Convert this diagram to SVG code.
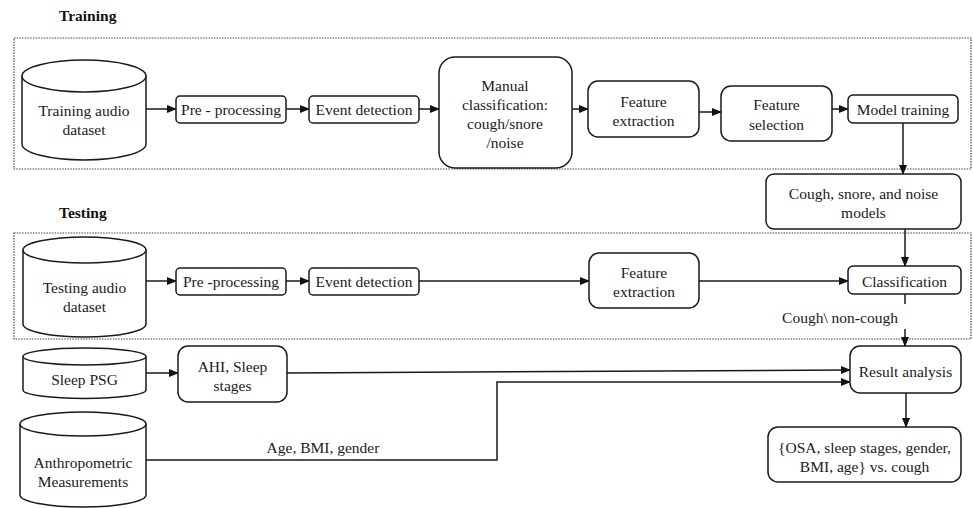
<svg xmlns="http://www.w3.org/2000/svg" width="973" height="508" viewBox="0 0 973 508" font-family="'Liberation Serif', 'Times New Roman', 'DejaVu Serif', serif">
<defs>
<marker id="ah" markerWidth="10" markerHeight="8" refX="9" refY="4" orient="auto" markerUnits="userSpaceOnUse">
<path d="M0,0 L10,4 L0,8 Z" fill="#111"/>
</marker>
<style>
text{font-family:'Liberation Serif','Times New Roman','DejaVu Serif',serif}
.n{fill:#fff;stroke:#1a1a1a;stroke-width:1.5}
.t{font-size:15.5px;fill:#1a1a1a;text-anchor:middle;dominant-baseline:central}
.h{font-size:15.5px;font-weight:bold;fill:#111}
.c{fill:none;stroke:#1a1a1a;stroke-width:1.5}
.a{fill:none;stroke:#1a1a1a;stroke-width:1.5;marker-end:url(#ah)}
.d{fill:none;stroke:#444;stroke-width:1.2;stroke-dasharray:1.5 1.2}
</style>
</defs>
<rect width="973" height="508" fill="#fff"/>

<g id="sections">
<text class="h" x="59" y="21">Training</text>
<rect class="d" x="14" y="38" width="957" height="131"/>
<text class="h" x="59" y="218">Testing</text>
<rect class="d" x="14" y="233" width="957" height="106"/>
</g>

<g id="connectors">
<line class="a" x1="146" y1="109" x2="176" y2="109"/>
<line class="a" x1="286" y1="109" x2="309" y2="109"/>
<line class="a" x1="419" y1="109" x2="439" y2="109"/>
<line class="a" x1="572" y1="109" x2="588" y2="109"/>
<line class="a" x1="699" y1="112" x2="721" y2="112"/>
<line class="a" x1="832" y1="109" x2="848" y2="109"/>
<line class="a" x1="903" y1="123" x2="903" y2="174"/>
<line class="a" x1="905" y1="229" x2="905" y2="266"/>
<line class="a" x1="146" y1="281" x2="176" y2="281"/>
<line class="a" x1="286" y1="281" x2="309" y2="281"/>
<line class="a" x1="419" y1="281" x2="589" y2="281"/>
<line class="a" x1="699" y1="281" x2="848" y2="281"/>
<line class="c" x1="905" y1="294" x2="905" y2="304"/>
<text class="t" x="840" y="317">Cough\ non-cough</text>
<line class="a" x1="905" y1="329" x2="905" y2="346"/>
<line class="a" x1="146" y1="373" x2="178" y2="373"/>
<path class="a" d="M287,373 L850,370"/>
<path class="a" d="M146,460 L497,460 L497,382 L850,382"/>
<text class="t" x="323" y="447">Age, BMI, gender</text>
<line class="a" x1="906" y1="393" x2="906" y2="427"/>
</g>

<g id="train-dataset">
<path class="n" d="M22,76 L22,144 A62,16 0 0 0 146,144 L146,76"/>
<ellipse class="n" cx="84" cy="76" rx="62" ry="16"/>
<text class="t" x="84" y="110">Training audio</text>
<text class="t" x="84" y="129">dataset</text>
</g>
<g id="train-pre">
<rect class="n" x="176" y="96" width="110" height="27" rx="4"/>
<text class="t" x="231" y="109.5">Pre - processing</text>
</g>
<g id="train-event">
<rect class="n" x="309" y="96" width="110" height="27" rx="4"/>
<text class="t" x="364" y="109.5">Event detection</text>
</g>
<g id="manual">
<rect class="n" x="439" y="57" width="133" height="111" rx="16"/>
<text class="t" x="505" y="85">Manual</text>
<text class="t" x="505" y="104">classification:</text>
<text class="t" x="505" y="123">cough/snore</text>
<text class="t" x="505" y="142">/noise</text>
</g>
<g id="train-feat-ext">
<rect class="n" x="588" y="81" width="111" height="56" rx="10"/>
<text class="t" x="643.5" y="101">Feature</text>
<text class="t" x="643.5" y="120">extraction</text>
</g>
<g id="feat-sel">
<rect class="n" x="721" y="86" width="111" height="55" rx="10"/>
<text class="t" x="776.5" y="104">Feature</text>
<text class="t" x="776.5" y="124">selection</text>
</g>
<g id="model-training">
<rect class="n" x="848" y="95" width="110" height="28" rx="5"/>
<text class="t" x="903" y="109">Model training</text>
</g>
<g id="models">
<rect class="n" x="766" y="174" width="195" height="55" rx="8"/>
<text class="t" x="863.5" y="193">Cough, snore, and noise</text>
<text class="t" x="863.5" y="212">models</text>
</g>

<g id="test-dataset">
<path class="n" d="M23,250 L23,324 A61.5,13 0 0 0 146,324 L146,250"/>
<ellipse class="n" cx="84.5" cy="250" rx="61.5" ry="13"/>
<text class="t" x="84.5" y="287">Testing audio</text>
<text class="t" x="84.5" y="306">dataset</text>
</g>
<g id="test-pre">
<rect class="n" x="176" y="268" width="110" height="27" rx="4"/>
<text class="t" x="231" y="281.5">Pre -processing</text>
</g>
<g id="test-event">
<rect class="n" x="309" y="268" width="110" height="27" rx="4"/>
<text class="t" x="364" y="281.5">Event detection</text>
</g>
<g id="test-feat-ext">
<rect class="n" x="589" y="253" width="110" height="55" rx="10"/>
<text class="t" x="644" y="272">Feature</text>
<text class="t" x="644" y="291">extraction</text>
</g>
<g id="classification">
<rect class="n" x="848" y="266" width="113" height="28" rx="5"/>
<text class="t" x="904.5" y="281">Classification</text>
</g>

<g id="sleep-psg">
<path class="n" d="M23,356.5 L23,390 A61.5,8.5 0 0 0 146,390 L146,356.5"/>
<ellipse class="n" cx="84.5" cy="356.5" rx="61.5" ry="8.5"/>
<text class="t" x="84.5" y="379">Sleep PSG</text>
</g>
<g id="ahi">
<rect class="n" x="178" y="346" width="109" height="56" rx="10"/>
<text class="t" x="232.5" y="366">AHI, Sleep</text>
<text class="t" x="232.5" y="385">stages</text>
</g>
<g id="anthro">
<path class="n" d="M20,424 L20,495 A63,12 0 0 0 146,495 L146,424"/>
<ellipse class="n" cx="83" cy="424" rx="63" ry="12"/>
<text class="t" x="83" y="462">Anthropometric</text>
<text class="t" x="83" y="481">Measurements</text>
</g>
<g id="result">
<rect class="n" x="850" y="346" width="111" height="47" rx="10"/>
<text class="t" x="905.5" y="371">Result analysis</text>
</g>
<g id="output">
<rect class="n" x="768" y="427" width="193" height="55" rx="10"/>
<text class="t" x="864.5" y="447">{OSA, sleep stages, gender,</text>
<text class="t" x="864.5" y="466">BMI, age} vs. cough</text>
</g>
</svg>
